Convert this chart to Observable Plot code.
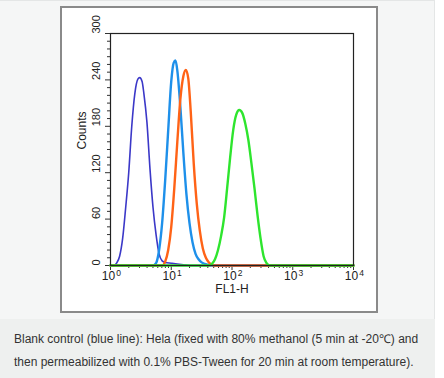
<!DOCTYPE html>
<html>
<head>
<meta charset="utf-8">
<script src="https://cdn.jsdelivr.net/npm/d3@7"></script>
<script src="https://cdn.jsdelivr.net/npm/@observablehq/plot@0.6"></script>
<style>
  html, body { margin: 0; padding: 0; background: #fff; }
  body { width: 444px; height: 378px; position: relative; overflow: hidden; font-family: "Liberation Sans", Arial, sans-serif; }
  #panel { position: absolute; left: 0; top: 0; width: 434px; height: 318px; background: #f5f6f6; border: 1px solid #e4e6e6; border-left: none; }
  #box { position: absolute; left: 60px; top: 6px; width: 314px; height: 303px; background: #fff; border: 2px solid #8a8a8a; }
  #chart { position: absolute; left: 0; top: 0; }
  #caption { position: absolute; left: 0; top: 319px; width: 435px; height: 59px; background: #eef0ef; font-size: 12px; color: #333; line-height: 23px; padding: 9px 0 0 14px; box-sizing: border-box; white-space: nowrap; }
</style>
</head>
<body>
<div id="panel"></div>
<div id="box"></div>
<div id="chart"></div>
<div id="caption">Blank control (blue line): Hela (fixed with 80% methanol (5 min at -20℃) and<br>then permeabilized with 0.1% PBS-Tween for 20 min at room temperature).</div>
<script>
// FL1-H positions given as log10 exponents, counts
const purpleExp = [0, 0.05, 0.10, 0.15, 0.20, 0.25, 0.30, 0.35, 0.40, 0.45, 0.48, 0.52, 0.55, 0.60, 0.65, 0.70, 0.75, 0.80, 0.85, 0.90, 1.00, 1.10, 1.20, 1.30, 4];
const purpleCounts = [0, 0, 3, 12, 35, 75, 120, 180, 222, 241, 243, 238, 222, 185, 125, 75, 40, 15, 6, 4, 3, 2, 1, 0, 0];

const blueExp = [0, 0.70, 0.75, 0.80, 0.85, 0.90, 0.95, 1.00, 1.04, 1.07, 1.10, 1.15, 1.20, 1.25, 1.30, 1.35, 1.40, 1.45, 1.50, 1.60, 1.70, 4];
const blueCounts = [0, 0, 3, 20, 55, 110, 175, 238, 262, 265, 252, 205, 145, 92, 55, 30, 15, 8, 4, 1, 0, 0];

const orangeExp = [0, 0.85, 0.90, 0.95, 1.00, 1.05, 1.10, 1.15, 1.20, 1.24, 1.28, 1.32, 1.37, 1.42, 1.47, 1.52, 1.57, 1.62, 1.70, 4];
const orangeCounts = [0, 0, 5, 20, 50, 100, 160, 215, 245, 253, 242, 200, 132, 80, 45, 22, 10, 4, 0, 0];

const greenExp = [0, 1.62, 1.67, 1.72, 1.77, 1.82, 1.87, 1.92, 1.97, 2.02, 2.07, 2.12, 2.17, 2.22, 2.27, 2.32, 2.37, 2.42, 2.47, 2.52, 2.57, 2.62, 4];
const greenCounts = [0, 0, 2, 8, 20, 38, 62, 100, 140, 175, 195, 201, 197, 183, 162, 132, 100, 65, 35, 12, 3, 0, 0];

const xTickValues = [1, 10, 100, 1000, 10000];
const xTickExponents = ["0", "1", "2", "3", "4"];
const yTickValues = [0, 60, 120, 180, 240, 300];
const yTickLabels = ["0", "60", "120", "180", "240", "300"];
const xMinorTicks = [2,3,4,5,6,7,8,9,20,30,40,50,60,70,80,90,200,300,400,500,600,700,800,900,2000,3000,4000,5000,6000,7000,8000,9000];
const yMinorTicks = [10,20,30,40,50,70,80,90,100,110,130,140,150,160,170,190,200,210,220,230,250,260,270,280,290];

function series(exp, counts) {
  return exp.map((e, i) => ({x: Math.pow(10, e), y: counts[i]}));
}

const chart = Plot.plot({
  width: 444,
  height: 320,
  marginLeft: 110,
  marginRight: 91,
  marginTop: 33,
  marginBottom: 55,
  x: {type: "log", domain: [1, 10000]},
  y: {domain: [0, 300]},
  style: {background: "transparent", fontFamily: "'Liberation Sans', Arial, sans-serif", fontSize: "10px", color: "#222", overflow: "visible"},
  marks: [
    Plot.axisY({ticks: yMinorTicks, tickSize: 3, tickFormat: () => "", label: null, stroke: "#333"}),
    Plot.axisY({ticks: yTickValues, tickSize: 5, tickFormat: () => "", label: null, stroke: "#333"}),
    Plot.axisX({ticks: xMinorTicks, tickSize: 3, tickFormat: () => "", label: null, stroke: "#333"}),
    Plot.axisX({ticks: xTickValues, tickSize: 5, tickFormat: () => "", label: null, stroke: "#333"}),
    Plot.text(yTickValues, {y: d => d, text: (d, i) => yTickLabels[i], frameAnchor: "left", dx: -14, rotate: -90, fontSize: 11, fill: "#222"}),
    Plot.text(xTickValues, {x: d => d, text: () => "10", frameAnchor: "bottom", dy: 14, dx: -2, fontSize: 12, fill: "#222"}),
    Plot.text(xTickValues, {x: d => d, text: (d, i) => xTickExponents[i], frameAnchor: "bottom", dy: 10, dx: 8, fontSize: 8.5, fill: "#222"}),
    Plot.text(["Counts"], {text: d => d, frameAnchor: "left", dx: -28, rotate: -90, fontSize: 12, fill: "#222"}),
    Plot.text(["FL1-H"], {text: d => d, frameAnchor: "bottom", dy: 27, fontSize: 12, fill: "#222"}),
    Plot.line(series(purpleExp, purpleCounts), {x: "x", y: "y", stroke: "#3b38c8", strokeWidth: 1.6, curve: "monotone-x"}),
    Plot.line(series(blueExp, blueCounts), {x: "x", y: "y", stroke: "#1e90ea", strokeWidth: 2.4, curve: "monotone-x"}),
    Plot.line(series(orangeExp, orangeCounts), {x: "x", y: "y", stroke: "#ff6317", strokeWidth: 2.4, curve: "monotone-x"}),
    Plot.line(series(greenExp, greenCounts), {x: "x", y: "y", stroke: "#2ee52e", strokeWidth: 2.4, curve: "monotone-x"}),
    Plot.frame({stroke: "#222", strokeWidth: 1.2})
  ]
});
document.getElementById("chart").appendChild(chart);
</script>
</body>
</html>
